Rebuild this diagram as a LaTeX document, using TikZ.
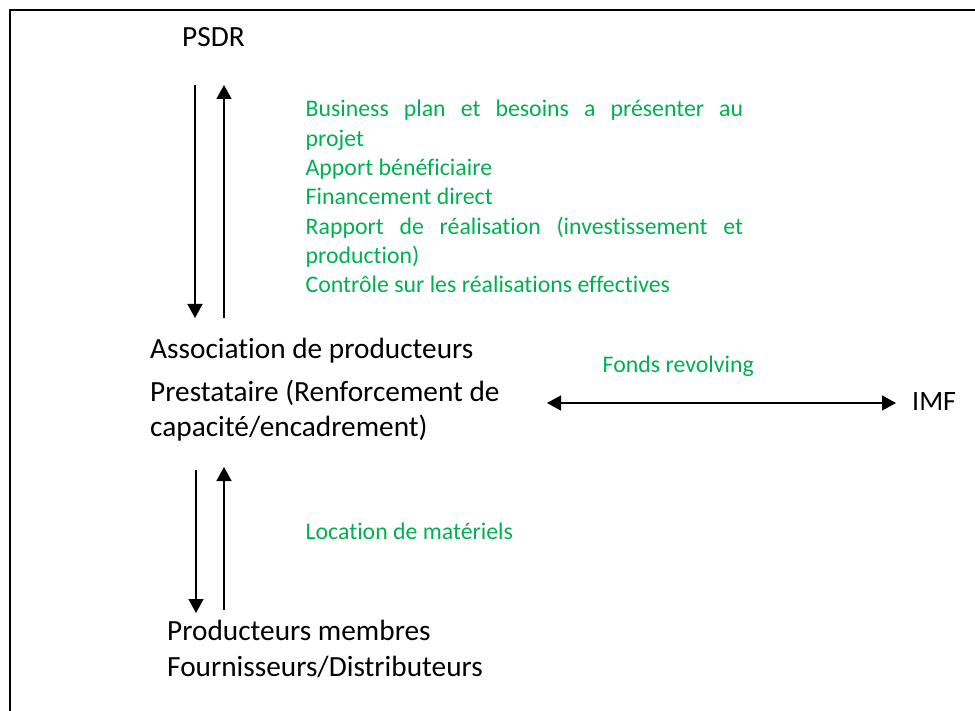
\documentclass[tikz,border=0pt]{standalone}
\usepackage{fontspec}
\setmainfont{Carlito}[Ligatures=NoCommon]
\usepackage{xcolor}
\usetikzlibrary{arrows.meta,positioning}
\definecolor{wordgreen}{RGB}{0,176,80}

\begin{document}
\begin{tikzpicture}[x=1pt,y=-1pt,>={Triangle[width=15pt,length=14pt]},
    lbl/.style={inner sep=0pt, anchor=base west, font=\fontsize{29.3}{35}\selectfont},
    glbl/.style={inner sep=0pt, anchor=base west, text=wordgreen, font=\fontsize{23.8}{29.3}\selectfont},
    flow/.style={line width=1.3pt}]
    \useasboundingbox (0,0) rectangle (975,711);
    \draw[line width=2.2pt] (10,711) -- (10,10) -- (975,10);

    \node[lbl] (psdr) at (182,46.7) {PSDR};
    \node[lbl] (assoc) at (150,359) {Association de producteurs};
    \node[lbl] (prest) at (150,401.7) {Prestataire (Renforcement de};
    \node[lbl] (capa) at (150,436.7) {capacité/encadrement)};
    \node[lbl, font=\fontsize{28}{34}\selectfont] (imf) at (912,410) {IMF};
    \node[lbl] (prodm) at (167,640) {Producteurs membres};
    \node[lbl] (fourn) at (167,676) {Fournisseurs/Distributeurs};

    \node[glbl, text width=437.5pt, align=justify] (actions) at (305.5,117)
        {Business plan et besoins a présenter au\linebreak projet\\
         Apport bénéficiaire\\
         Financement direct\\
         Rapport de réalisation (investissement et\linebreak production)\\
         Contrôle sur les réalisations effectives};
    \node[glbl] (fonds) at (602.5,373) {Fonds revolving};
    \node[glbl] (locat) at (305.5,539) {Location de matériels};

    \coordinate (psdr-d) at (195,85);
    \coordinate (assoc-d) at (195,318);
    \coordinate (assoc-u) at (224,318);
    \coordinate (psdr-u) at (224,85);
    \coordinate (capa-d) at (196,470);
    \coordinate (prodm-d) at (196,613);
    \coordinate (prodm-u) at (224,610);
    \coordinate (capa-u) at (224,467);
    \coordinate (prest-r) at (547,403);
    \coordinate (imf-l) at (896,403);

    \draw[flow,->] (psdr-d) -- (assoc-d);
    \draw[flow,->] (assoc-u) -- (psdr-u);
    \draw[flow,->] (capa-d) -- (prodm-d);
    \draw[flow,->] (prodm-u) -- (capa-u);
    \draw[flow,<->] (prest-r) -- (imf-l);
\end{tikzpicture}
\end{document}
